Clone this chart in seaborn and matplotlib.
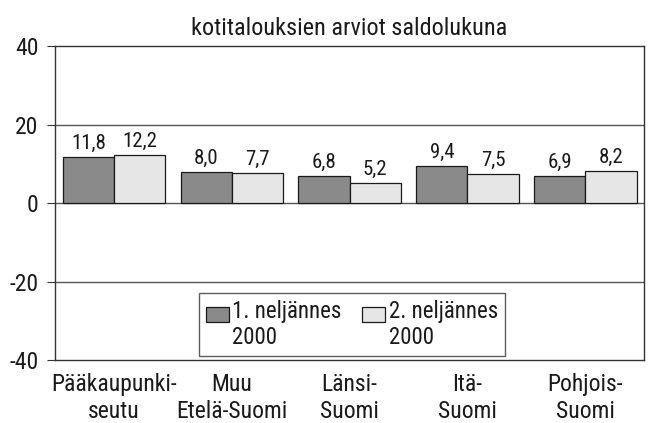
import pandas as pd
import matplotlib.pyplot as plt
import seaborn as sns
from matplotlib import font_manager
from matplotlib.patches import Rectangle
from matplotlib.legend_handler import HandlerPatch

# Data
regions = ["Pääkaupunki-\nseutu", "Muu\nEtelä-Suomi", "Länsi-\nSuomi", "Itä-\nSuomi", "Pohjois-\nSuomi"]
q1_2000 = [11.8, 8.0, 6.8, 9.4, 6.9]
q2_2000 = [12.2, 7.7, 5.2, 7.5, 8.2]
series = ["1. neljännes\n2000", "2. neljännes\n2000"]
y_ticks = [-40, -20, 0, 20, 40]

df = pd.DataFrame({
    "Alue": regions * 2,
    "Saldo": q1_2000 + q2_2000,
    "Jakso": [series[0]] * len(regions) + [series[1]] * len(regions),
})

sns.set_style("white")
names = {f.name for f in font_manager.fontManager.ttflist}
family = "DejaVu Sans"
for cand in ["Liberation Sans Narrow", "Roboto Condensed", "Open Sans Condensed",
             "Noto Sans Condensed", "DejaVu Sans Condensed", "Liberation Sans"]:
    if cand in names:
        family = cand
        break
plt.rcParams["font.family"] = [family, "DejaVu Sans"]

fig = plt.figure(figsize=(6.59, 4.23), dpi=100)
ax = fig.add_axes([0.0835, 0.149, 0.894, 0.742])

sns.barplot(data=df, x="Alue", y="Saldo", hue="Jakso", order=regions,
            palette=["#8a8a8a", "#e6e6e6"], edgecolor="#1a1a1a", linewidth=0.9,
            width=0.87, ax=ax, zorder=3)

for cont in ax.containers:
    ax.bar_label(cont, labels=[f"{v:.1f}".replace(".", ",") for v in cont.datavalues],
                 padding=3, fontsize=15, color="#1a1a1a")

ax.set_ylim(-40, 40)
ax.set_yticks(y_ticks)
ax.set_yticklabels([str(t) for t in y_ticks], fontsize=17, color="#1a1a1a")
ax.tick_params(axis="y", left=True, length=6, width=0.8, color="#333333", pad=6)
ax.tick_params(axis="x", bottom=False, labelsize=17, pad=6, labelcolor="#1a1a1a")
for y in [-20, 0, 20]:
    ax.axhline(y, color="#555555", linewidth=1, zorder=1)
for s in ax.spines.values():
    s.set_color("#333333")
    s.set_linewidth(1)
ax.set_xlabel("")
ax.set_ylabel("")
ax.set_title("kotitalouksien arviot saldolukuna", fontsize=17.5, pad=8, color="#1a1a1a")


def top_box(legend, orig_handle, xdescent, ydescent, width, height, fontsize):
    h = height * 0.38
    return Rectangle((-xdescent, -ydescent + height - h), width, h)


handles, labels = ax.get_legend_handles_labels()
leg = ax.legend(handles, labels, loc="lower center", bbox_to_anchor=(0.504, -0.025), ncol=2,
                fontsize=16.5, frameon=True, fancybox=False, edgecolor="#333333",
                handlelength=1.0, handleheight=2.2, handletextpad=0.15, columnspacing=0.9,
                borderpad=0.3, labelspacing=0.2,
                handler_map={h: HandlerPatch(patch_func=top_box) for h in handles})
leg.get_frame().set_linewidth(1)
for t in leg.get_texts():
    t.set_color("#1a1a1a")

fig.savefig("out.png", dpi=100)
